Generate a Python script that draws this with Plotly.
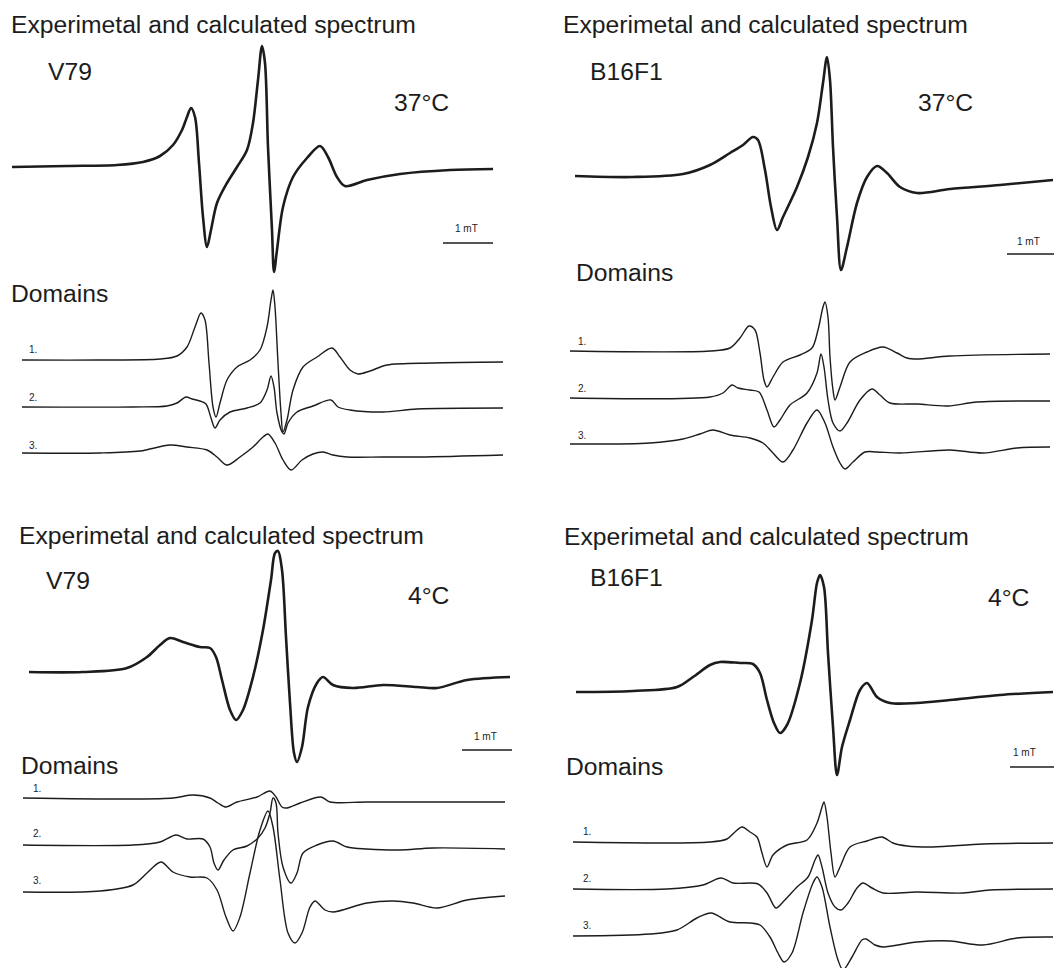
import plotly.graph_objects as go

W, H = 1054, 968

# ================= DATA (field in mT, intensity in a.u.) =================
# --- V79, 37 °C ---
v79_37_exp_B = [0.24,1.34,2.34,2.86,3.20,3.46,3.64,3.74,3.82,3.90,3.98,4.06,4.14,4.22,4.34,4.54,4.74,4.94,5.06,5.16,5.24,5.30,5.36,5.44,5.48,5.54,5.66,5.86,6.14,6.40,6.56,6.74,6.90,7.34,8.00,9.00,9.86]
v79_37_exp_I = [0,1,2,5,11,22,37,50,59,50,4,-50,-80,-63,-36,-16,0,17,44,87,121,104,20,-63,-105,-83,-40,-10,9,21,10,-10,-19,-13,-7,-3,-2]
v79_37_d1_B = [0.44,2.00,3.20,3.54,3.74,3.90,4.02,4.10,4.18,4.26,4.32,4.40,4.54,4.74,5.00,5.20,5.34,5.42,5.46,5.50,5.56,5.62,5.66,5.74,5.86,6.06,6.34,6.64,6.80,7.00,7.16,7.40,7.74,8.66,10.06]
v79_37_d1_I = [0,0,1,4,13,33,47,40,-3,-47,-57,-43,-20,-7,0,10,33,60,70,53,-3,-53,-72,-60,-30,-7,3,12,3,-10,-14,-11,-5,-3,-2]
v79_37_d2_B = [0.44,2.66,3.34,3.54,3.72,3.84,4.00,4.12,4.22,4.30,4.40,4.60,4.94,5.20,5.34,5.42,5.48,5.54,5.64,5.68,5.76,5.94,6.26,6.62,6.76,7.00,7.66,8.34,10.06]
v79_37_d2_I = [0,0,1,4,10,8,6,3,-11,-21,-13,-5,-1,4,17,31,20,-6,-25,-27,-16,-5,1,7,0,-3,-5,-2,-1]
v79_37_d3_B = [0.44,2.00,2.80,3.40,3.74,4.14,4.34,4.54,4.80,5.06,5.26,5.36,5.50,5.66,5.82,6.04,6.26,6.46,6.66,6.94,7.66,8.40,10.06]
v79_37_d3_I = [0,0,2,8,6,3,-4,-12,-4,6,16,19,10,-7,-17,-7,-1,1,-2,-4,-4,-4,-2]

# --- B16F1, 37 °C ---
b16_37_exp_B = [0.50,1.66,2.66,3.20,3.60,3.86,4.06,4.16,4.30,4.42,4.54,4.66,4.94,5.16,5.34,5.46,5.54,5.60,5.66,5.74,5.82,5.94,6.14,6.34,6.54,6.74,7.00,7.34,8.00,9.00,10.06]
b16_37_exp_I = [0,-1,2,11,23,31,39,36,6,-31,-54,-41,-11,19,53,93,119,96,29,-41,-94,-71,-27,-1,10,3,-11,-17,-13,-9,-4]
b16_37_d1_B = [0.40,3.20,3.60,3.80,3.98,4.10,4.20,4.28,4.34,4.46,4.66,5.00,5.24,5.36,5.46,5.50,5.56,5.60,5.66,5.70,5.80,6.00,6.34,6.66,6.94,7.14,7.34,8.00,10.00]
b16_37_d1_I = [0,0,3,13,25,21,-2,-29,-36,-26,-11,-4,3,21,44,49,34,-6,-39,-49,-36,-11,-1,4,-2,-7,-8,-5,-3]
b16_37_d2_B = [0.40,3.20,3.46,3.64,3.76,4.00,4.18,4.34,4.48,4.60,4.80,5.14,5.34,5.42,5.48,5.56,5.66,5.80,5.94,6.20,6.44,6.60,6.80,7.34,7.96,8.54,10.00]
b16_37_d2_I = [0,1,5,13,10,8,6,-12,-29,-22,-7,5,25,44,31,-2,-25,-33,-25,-2,9,3,-5,-6,-8,-4,-3]
b16_37_d3_B = [0.40,2.00,2.66,3.00,3.26,3.60,4.00,4.26,4.46,4.66,4.86,5.14,5.34,5.50,5.66,5.80,5.90,6.06,6.30,6.54,7.00,8.00,8.66,9.34,10.00]
b16_37_d3_I = [0,1,5,10,14,9,6,1,-9,-18,-6,21,34,21,-3,-19,-25,-18,-8,-8,-9,-6,-9,-4,-3]

# --- V79, 4 °C ---
v79_4_exp_B = [0.58,1.66,2.54,2.94,3.20,3.40,3.66,4.00,4.20,4.32,4.44,4.60,4.72,4.86,5.06,5.26,5.42,5.50,5.56,5.64,5.72,5.80,5.88,5.94,6.04,6.16,6.34,6.46,6.66,7.06,7.66,8.34,8.74,9.34,10.20]
v79_4_exp_I = [0,0,4,15,27,34,30,25,24,15,-8,-38,-48,-38,-5,42,92,119,121,102,35,-31,-81,-90,-75,-35,-11,-5,-13,-16,-13,-15,-16,-8,-5]
v79_4_d1_B = [0.46,2.66,3.46,3.86,4.20,4.36,4.52,4.74,5.14,5.40,5.52,5.64,5.74,6.00,6.42,6.60,7.34,8.66,10.10]
v79_4_d1_I = [0,-1,0,3,0,-5,-9,-4,1,7,1,-9,-10,-5,1,-4,-4,-4,-4]
v79_4_d2_B = [0.46,2.66,3.20,3.52,3.74,4.06,4.20,4.28,4.36,4.48,4.66,4.94,5.16,5.30,5.40,5.46,5.52,5.56,5.66,5.82,5.94,6.06,6.34,6.66,6.94,7.34,8.00,8.66,10.10]
v79_4_d2_I = [0,0,3,10,6,6,-2,-18,-25,-15,-5,-1,7,17,32,47,42,12,-22,-38,-28,-8,0,4,-2,-4,-5,-3,-4]
v79_4_d3_B = [0.46,2.00,2.66,2.94,3.22,3.46,3.80,4.14,4.34,4.52,4.66,4.80,5.00,5.20,5.36,5.46,5.60,5.76,5.90,6.04,6.20,6.30,6.50,6.66,7.34,7.86,8.26,8.74,9.34,10.10]
v79_4_d3_I = [0,1,7,19,30,20,15,14,2,-25,-39,-25,19,62,81,65,12,-41,-51,-41,-15,-9,-18,-20,-11,-9,-11,-16,-8,-4]

# --- B16F1, 4 °C ---
b16_4_exp_B = [0.52,1.66,2.54,2.86,3.20,3.40,3.80,4.06,4.20,4.34,4.48,4.60,4.74,5.00,5.24,5.34,5.40,5.48,5.56,5.66,5.74,5.84,6.00,6.20,6.34,6.54,6.80,7.34,8.00,9.00,10.06]
b16_4_exp_I = [0,1,5,15,27,30,29,28,19,-8,-31,-41,-33,9,72,109,117,105,39,-35,-83,-55,-28,2,9,-5,-11,-11,-8,-3,0]
b16_4_d1_B = [0.46,3.20,3.54,3.70,3.84,4.00,4.14,4.24,4.34,4.46,4.74,5.14,5.34,5.44,5.48,5.54,5.62,5.70,5.80,6.00,6.34,6.64,6.86,7.14,7.66,8.66,10.06]
b16_4_d1_I = [0,0,3,10,15,10,5,-11,-25,-13,-3,2,19,35,40,25,-11,-35,-25,-5,1,5,-1,-4,-5,-2,-1]
b16_4_d2_B = [0.46,2.34,3.06,3.42,3.66,4.16,4.34,4.52,4.66,4.94,5.16,5.30,5.36,5.44,5.56,5.70,5.82,5.96,6.14,6.26,6.44,6.66,7.34,8.26,8.80,10.06]
b16_4_d2_I = [0,0,4,11,6,5,-4,-19,-13,2,12,29,34,22,-4,-18,-21,-14,1,6,1,-4,-3,-4,-1,0]
b16_4_d3_B = [0.46,2.00,2.54,2.94,3.22,3.60,4.00,4.20,4.40,4.56,4.68,4.84,5.06,5.26,5.34,5.44,5.60,5.76,5.86,6.04,6.24,6.32,6.50,6.66,7.34,8.00,8.66,9.34,10.06]
b16_4_d3_I = [0,2,6,18,23,14,13,11,-1,-17,-26,-17,23,53,59,49,9,-24,-34,-21,-4,-3,-9,-11,-6,-5,-9,-2,-1]

title_text = "Experimetal and calculated spectrum"
samples = ["V79", "B16F1", "V79", "B16F1"]
temperatures = ["37°C", "37°C", "4°C", "4°C"]
domain_labels = ["1.", "2.", "3."]
scale_label = "1 mT"
scale_len_mT = 1.0

# ================= LAYOUT / STYLE =================
FONT = "Liberation Sans, Arial, sans-serif"
INK = "#1c1c1c"
BIG = 24.7

panels = [
    dict(exp=(v79_37_exp_B, v79_37_exp_I),
         doms=[(v79_37_d1_B, v79_37_d1_I), (v79_37_d2_B, v79_37_d2_I), (v79_37_d3_B, v79_37_d3_I)],
         box=(0, 527, 0, 484), xr=[0, 10.54], yr=[-317, 167], offs=[-193, -240, -286],
         bar=(8.86, -76),
         title=(9, 25), sample=(46, 72), temp=(392, 102), dom=(9, 294),
         nums=[(27, 350), (27, 397), (27, 445)], scale_txt=(466, 229)),
    dict(exp=(b16_37_exp_B, b16_37_exp_I),
         doms=[(b16_37_d1_B, b16_37_d1_I), (b16_37_d2_B, b16_37_d2_I), (b16_37_d3_B, b16_37_d3_I)],
         box=(550, 1054, 0, 484), xr=[0, 10.08], yr=[-308, 176], offs=[-175, -222, -268],
         bar=(9.14, -78),
         title=(561, 25), sample=(588, 72), temp=(916, 102), dom=(574, 273),
         nums=[(576, 341), (576, 388), (576, 435)], scale_txt=(1028, 241)),
    dict(exp=(v79_4_exp_B, v79_4_exp_I),
         doms=[(v79_4_d1_B, v79_4_d1_I), (v79_4_d2_B, v79_4_d2_I), (v79_4_d3_B, v79_4_d3_I)],
         box=(0, 527, 484, 968), xr=[0, 10.54], yr=[-296, 188], offs=[-126, -173, -220],
         bar=(9.24, -78),
         title=(17, 535), sample=(44, 580), temp=(406, 595), dom=(19, 765),
         nums=[(31, 788), (31, 833), (31, 880)], scale_txt=(485, 736)),
    dict(exp=(b16_4_exp_B, b16_4_exp_I),
         doms=[(b16_4_d1_B, b16_4_d1_I), (b16_4_d2_B, b16_4_d2_I), (b16_4_d3_B, b16_4_d3_I)],
         box=(550, 1054, 484, 968), xr=[0, 10.08], yr=[-276, 208], offs=[-150, -197, -244],
         bar=(9.20, -75),
         title=(562, 536), sample=(588, 577), temp=(986, 597), dom=(564, 766),
         nums=[(581, 831), (581, 878), (581, 925)], scale_txt=(1024, 752)),
]


def px(x):
    return x / W


def py(y):
    return 1 - y / H


fig = go.Figure()
annotations = []
shapes = []

for i, p in enumerate(panels):
    k = "" if i == 0 else str(i + 1)
    xa, ya = "x" + k, "y" + k
    x0, x1, y0, y1 = p["box"]
    fig.update_layout({
        "xaxis" + k: dict(domain=[px(x0), px(x1)], range=p["xr"], visible=False,
                          fixedrange=True, anchor=ya),
        "yaxis" + k: dict(domain=[py(y1), py(y0)], range=p["yr"], visible=False,
                          fixedrange=True, anchor=xa),
    })
    B, I = p["exp"]
    fig.add_trace(go.Scatter(x=B, y=I, xaxis=xa, yaxis=ya, mode="lines",
                             line=dict(color=INK, width=2.6, shape="spline", smoothing=0.9),
                             hoverinfo="skip"))
    for (Bd, Id), off in zip(p["doms"], p["offs"]):
        fig.add_trace(go.Scatter(x=Bd, y=[v + off for v in Id], xaxis=xa, yaxis=ya,
                                 mode="lines",
                                 line=dict(color=INK, width=1.4, shape="spline", smoothing=0.9),
                                 hoverinfo="skip"))
    bx, by = p["bar"]
    shapes.append(dict(type="line", xref=xa, yref=ya, x0=bx, x1=bx + scale_len_mT,
                       y0=by, y1=by, line=dict(color=INK, width=1.6)))

    def ann(text, pos, size, anchor="left"):
        annotations.append(dict(text=text, x=px(pos[0]), y=py(pos[1]), xref="paper",
                                yref="paper", xanchor=anchor, yanchor="middle",
                                showarrow=False, font=dict(family=FONT, size=size, color=INK)))

    ann(title_text, p["title"], BIG)
    ann(samples[i], p["sample"], BIG)
    ann(temperatures[i], p["temp"], BIG)
    ann("Domains", p["dom"], BIG)
    for lab, pos in zip(domain_labels, p["nums"]):
        ann(lab, pos, 10)
    ann(scale_label, p["scale_txt"], 10, anchor="center")

fig.update_layout(
    width=W, height=H,
    margin=dict(l=0, r=0, t=0, b=0),
    paper_bgcolor="white", plot_bgcolor="white",
    showlegend=False,
    annotations=annotations,
    shapes=shapes,
)

fig.write_html("out.html")
